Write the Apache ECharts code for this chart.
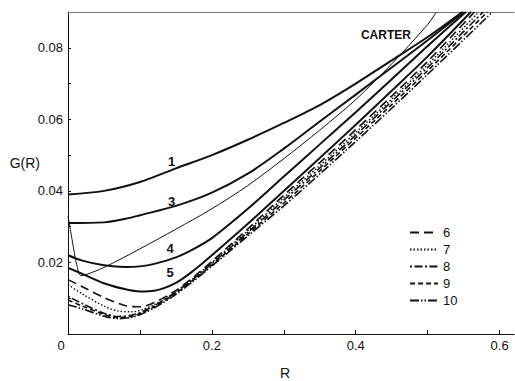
<!DOCTYPE html>
<html>
<head>
<meta charset="utf-8">
<script src="https://cdn.jsdelivr.net/npm/echarts@6/dist/echarts.min.js"></script>
<style>
html,body{margin:0;padding:0;background:#fff;}
#chart{width:515px;height:381px;}
</style>
</head>
<body>
<div id="chart"></div>
<script>
// ---- data ----
const xTickLabels = ['0', '0.2', '0.4', '0.6'];
const yTickLabels = ['0.02', '0.04', '0.06', '0.08'];

const curve1 = [[0,0.0390],[0.05,0.0400],[0.1,0.0425],[0.15,0.0463],[0.2,0.0500],[0.25,0.0543],[0.3,0.0590],[0.35,0.0640],[0.4,0.0700],[0.45,0.0765],[0.5,0.0830],[0.548,0.0900]];
const curve3 = [[0,0.0310],[0.05,0.0312],[0.08,0.0322],[0.1,0.0332],[0.15,0.0358],[0.2,0.0395],[0.25,0.0448],[0.3,0.0518],[0.35,0.0594],[0.4,0.0669],[0.45,0.0745],[0.5,0.0821],[0.55,0.0900]];
const curve4 = [[0,0.0220],[0.02,0.0205],[0.05,0.0192],[0.08,0.0187],[0.1,0.0189],[0.12,0.0196],[0.15,0.0214],[0.175,0.0238],[0.2,0.0268],[0.25,0.0350],[0.3,0.0440],[0.35,0.0530],[0.4,0.0620],[0.45,0.0712],[0.5,0.0805],[0.553,0.0900]];
const curve5 = [[0,0.0185],[0.02,0.0168],[0.05,0.0142],[0.08,0.0125],[0.1,0.0119],[0.12,0.0121],[0.15,0.0143],[0.175,0.0178],[0.2,0.0220],[0.25,0.0308],[0.3,0.0400],[0.35,0.0492],[0.4,0.0585],[0.45,0.0680],[0.5,0.0776],[0.56,0.0900]];
const carter = [[0,0.0330],[0.006,0.0260],[0.012,0.0195],[0.018,0.0163],[0.025,0.0166],[0.05,0.0186],[0.1,0.0238],[0.15,0.0293],[0.2,0.0350],[0.25,0.0415],[0.3,0.0490],[0.35,0.0570],[0.4,0.0655],[0.45,0.0755],[0.5,0.0865],[0.512,0.0900]];
const curve6 = [[0,0.0152],[0.02,0.0132],[0.05,0.0102],[0.08,0.0079],[0.1,0.0076],[0.12,0.0088],[0.15,0.0122],[0.175,0.0160],[0.2,0.0203],[0.25,0.0294],[0.3,0.0388],[0.35,0.0479],[0.4,0.0571],[0.45,0.0665],[0.5,0.0762],[0.565,0.0900]];
const curve7 = [[0,0.0138],[0.02,0.0112],[0.05,0.0078],[0.07,0.0064],[0.09,0.0062],[0.1,0.0066],[0.12,0.0082],[0.15,0.0119],[0.175,0.0157],[0.2,0.0200],[0.25,0.0289],[0.3,0.0381],[0.35,0.0471],[0.4,0.0563],[0.45,0.0657],[0.5,0.0753],[0.571,0.0900]];
const curve8 = [[0,0.0105],[0.02,0.0085],[0.05,0.0058],[0.07,0.0049],[0.09,0.0053],[0.1,0.0060],[0.12,0.0079],[0.15,0.0117],[0.175,0.0155],[0.2,0.0197],[0.25,0.0284],[0.3,0.0374],[0.35,0.0464],[0.4,0.0556],[0.45,0.0650],[0.5,0.0745],[0.577,0.0900]];
const curve9 = [[0,0.0095],[0.02,0.0078],[0.05,0.0055],[0.07,0.0046],[0.09,0.0050],[0.1,0.0057],[0.12,0.0076],[0.15,0.0114],[0.175,0.0152],[0.2,0.0193],[0.25,0.0279],[0.3,0.0366],[0.35,0.0456],[0.4,0.0548],[0.45,0.0641],[0.5,0.0736],[0.583,0.0900]];
const curve10 = [[0,0.0082],[0.02,0.0070],[0.05,0.0050],[0.07,0.0043],[0.09,0.0047],[0.1,0.0054],[0.12,0.0073],[0.15,0.0111],[0.175,0.0149],[0.2,0.0190],[0.25,0.0274],[0.3,0.0358],[0.35,0.0447],[0.4,0.0538],[0.45,0.0631],[0.5,0.0726],[0.59,0.0900]];

// curve annotations (text + anchor in data units)
const curveNotes = {
  '1': [0.144, 0.0481],
  '3': [0.144, 0.0369],
  '4': [0.142, 0.0238],
  '5': [0.142, 0.0173],
  'CARTER': [0.442, 0.0836]
};

// ---- chart ----
const INK = '#111';
const FONT = 'Liberation Sans, Arial, sans-serif';

function note(name, size, weight) {
  const p = curveNotes[name];
  return {
    symbol: 'circle', symbolSize: 0, silent: true,
    label: { show: true, position: 'inside', formatter: name, color: INK,
             fontSize: size, fontWeight: weight, fontFamily: FONT },
    data: [{ coord: p }]
  };
}

function line(name, data, width, dash, mp) {
  const s = {
    name: name, type: 'line', data: data, showSymbol: false, symbol: 'none',
    smooth: 0.3, clip: true, animation: false,
    lineStyle: { color: INK, width: width, type: dash || 'solid' },
    itemStyle: { color: INK }
  };
  if (mp) s.markPoint = mp;
  return s;
}

const chart = echarts.init(document.getElementById('chart'), null, { renderer: 'svg' });
chart.setOption({
  backgroundColor: '#fff',
  animation: false,
  grid: { left: 68, top: 12, width: 446, height: 322, outerBoundsMode: 'none', containLabel: false },
  xAxis: [{
    type: 'value', min: 0, max: 0.62, interval: 0.1,
    name: 'R', nameLocation: 'middle', nameGap: 32, nameMoveOverlap: false,
    nameTextStyle: { color: INK, fontSize: 14, fontFamily: FONT, padding: [0, 12, 0, 0] },
    axisLine: { show: true, lineStyle: { color: INK, width: 1 } },
    axisTick: { show: true, inside: true, length: 4, lineStyle: { color: INK } },
    splitLine: { show: false },
    axisLabel: {
      color: INK, fontSize: 13, fontFamily: FONT, margin: 5, showMaxLabel: false,
      formatter: function (v) {
        const k = Math.round(v * 10);
        if (k % 2 !== 0) return '';
        const txt = xTickLabels[k / 2];
        return txt === '0' ? '{z|0}' : txt;
      },
      rich: { z: { fontSize: 13, fontFamily: FONT, color: INK, padding: [0, 14, 0, 0] } }
    }
  }, {
    type: 'value', min: 0, max: 0.62, position: 'top',
    axisLine: { show: true, lineStyle: { color: '#777', width: 1 } },
    axisTick: { show: false }, axisLabel: { show: false }, splitLine: { show: false }
  }],
  yAxis: {
    type: 'value', min: 0, max: 0.09, interval: 0.01,
    name: '{g|G(R)}', nameLocation: 'middle', nameRotate: 0, nameGap: 28, nameMoveOverlap: false,
    nameTextStyle: { color: INK, fontSize: 14, fontFamily: FONT, align: 'right', verticalAlign: 'middle',
                     rich: { g: { color: INK, fontSize: 14, fontFamily: FONT, padding: [0, 0, 20, 0] } } },
    axisLine: { show: true, lineStyle: { color: INK, width: 1 } },
    axisTick: { show: true, inside: true, length: 3, lineStyle: { color: INK } },
    splitLine: { show: false },
    axisLabel: {
      color: INK, fontSize: 13, fontFamily: FONT, margin: 5, showMaxLabel: false,
      formatter: function (v) {
        const k = Math.round(v * 100);
        if (k === 0 || k % 2 !== 0) return '';
        return yTickLabels[k / 2 - 1] || '';
      }
    }
  },
  legend: {
    data: ['6', '7', '8', '9', '10'], orient: 'vertical', left: 404, top: 221,
    itemWidth: 28, itemHeight: 12, itemGap: 4,
    itemStyle: { color: 'rgba(0,0,0,0)', borderColor: 'rgba(0,0,0,0)', borderWidth: 0 },
    textStyle: { color: INK, fontSize: 13, fontFamily: FONT },
    selectedMode: false
  },
  series: [
    line('1', curve1, 2, 'solid', note('1', 13, 'bold')),
    line('3', curve3, 2, 'solid', note('3', 13, 'bold')),
    line('4', curve4, 2, 'solid', note('4', 13, 'bold')),
    line('5', curve5, 2, 'solid', note('5', 13, 'bold')),
    line('CARTER', carter, 1, 'solid', note('CARTER', 12, 'bold')),
    line('6', curve6, 1.6, [9, 5]),
    line('7', curve7, 1.4, [1.5, 2]),
    line('8', curve8, 1.6, [2, 2.5, 8, 2.5]),
    line('9', curve9, 1.6, [5, 3]),
    line('10', curve10, 1.6, [9, 2, 1.5, 2, 1.5, 2])
  ]
});
</script>
</body>
</html>
